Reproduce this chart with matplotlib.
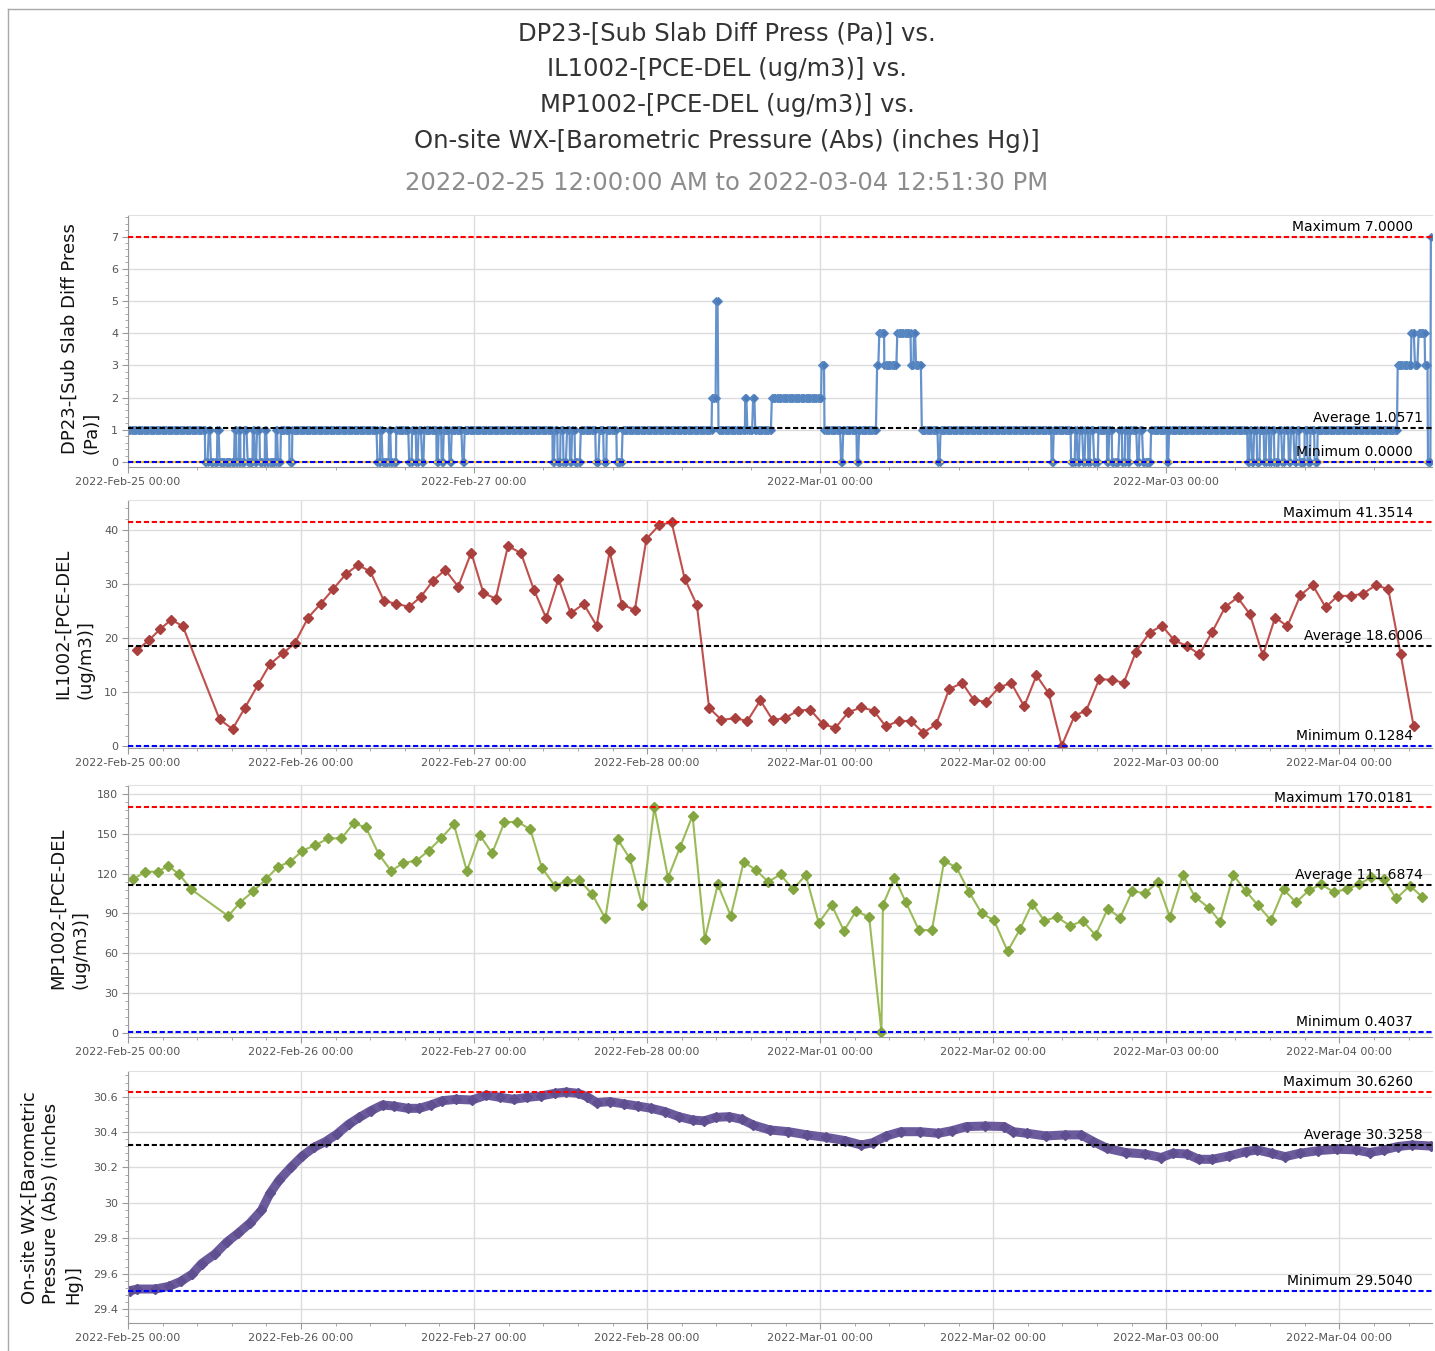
import numpy as np
import pandas as pd
import matplotlib
matplotlib.use("Agg")
import matplotlib.pyplot as plt
import matplotlib.dates as mdates
from matplotlib.lines import Line2D
from matplotlib.ticker import AutoMinorLocator, FuncFormatter

START = pd.Timestamp("2022-02-25 00:00:00")
END = pd.Timestamp("2022-03-04 12:51:30")
END_H = (END - START) / pd.Timedelta(hours=1)

# DP23 sub slab diff press (Pa): runs of a constant reading,
# hour the run starts -> reading held until the next run starts
dp_run_start = [
    0.0, 10.7, 11.2, 11.5, 12.4, 12.7, 14.8, 15.0, 15.4, 15.6, 16.1, 16.6, 17.3, 17.6,
    17.9, 18.3, 19.0, 19.3, 20.5, 20.8, 21.2, 22.4, 22.8,
    34.6, 35.0, 35.3, 36.2, 36.5, 37.2, 39.0, 39.4, 40.0, 40.3, 40.8, 41.1, 42.8, 43.1,
    43.5, 43.8, 44.6, 44.9, 46.4, 46.7,
    58.9, 59.2, 59.6, 60.0, 60.4, 60.9, 61.3, 61.6, 62.0, 62.8, 64.9, 65.4, 66.0, 66.4,
    67.8, 68.6,
    81.0, 81.6, 81.9, 85.6, 85.9, 86.7, 87.0, 89.3, 96.2, 96.6, 98.9, 99.2, 101.1, 101.4,
    103.9, 104.2, 104.9, 106.7, 108.6, 109.0, 109.3, 110.1, 112.4, 112.7,
    128.1, 128.4, 130.8, 131.4, 131.7, 132.0, 132.5, 132.8, 133.2, 133.5, 134.0, 134.6,
    135.8, 136.1, 136.5, 137.5, 137.9, 138.3, 138.7, 139.0, 140.0, 140.3, 140.8, 141.9,
    144.1, 144.4,
    155.3, 155.6, 155.9, 156.2, 156.6, 157.0, 157.6, 157.9, 158.3, 158.6, 159.0, 159.6,
    160.1, 160.4, 161.0, 161.3, 161.8, 162.1, 162.5, 163.2, 163.6, 164.0, 164.6, 165.0,
    176.1, 178.0, 178.5, 179.0, 179.9, 180.3, 180.7,
]
dp_run_value = [
    1, 0, 1, 0, 1, 0, 1, 0, 1, 0, 1, 0, 1, 0,
    1, 0, 1, 0, 1, 0, 1, 0, 1,
    0, 1, 0, 1, 0, 1, 0, 1, 0, 1, 0, 1, 0, 1,
    0, 1, 0, 1, 0, 1,
    0, 1, 0, 1, 0, 1, 0, 1, 0, 1, 0, 1, 0, 1,
    0, 1,
    2, 5, 1, 2, 1, 2, 1, 2, 3, 1, 0, 1, 0, 1,
    3, 4, 3, 4, 3, 4, 3, 1, 0, 1,
    0, 1, 0, 1, 0, 1, 0, 1, 0, 1, 0, 1,
    0, 1, 0, 1, 0, 1, 0, 1, 0, 1, 0, 1,
    0, 1,
    0, 1, 0, 1, 0, 1, 0, 1, 0, 1, 0, 1,
    0, 1, 0, 1, 0, 1, 0, 1, 0, 1, 0, 1,
    3, 4, 3, 4, 3, 0, 7,
]
dp_step_h = 1 / 6  # 10 minute logging interval
dp_avg = 1.0571

# IL1002 PCE-DEL (ug/m3)
il_hours = [
    1.27, 2.9, 4.5, 6.0, 7.6, 12.7, 14.5, 16.2, 18.0, 19.7, 21.5, 23.1, 25.0, 26.7,
    28.5, 30.2, 31.9, 33.6, 35.5, 37.2, 39.0, 40.6, 42.3, 44.0, 45.8, 47.6, 49.3, 51.0,
    52.7, 54.5, 56.3, 58.0, 59.7, 61.4, 63.2, 65.0, 66.8, 68.5, 70.3, 71.9, 73.7, 75.4,
    77.2, 78.9, 80.6, 82.3, 84.2, 85.9, 87.7, 89.4, 91.1, 92.9, 94.6, 96.4, 98.1, 99.9,
    101.7, 103.4, 105.1, 106.9, 108.6, 110.3, 112.1, 113.9, 115.7, 117.3, 119.0, 120.8,
    122.5, 124.3, 126.0, 127.7, 129.5, 131.3, 132.9, 134.7, 136.5, 138.1, 139.8, 141.7,
    143.4, 145.1, 146.9, 148.6, 150.4, 152.2, 153.9, 155.6, 157.4, 159.1, 160.8, 162.6,
    164.3, 166.1, 167.8, 169.6, 171.3, 173.1, 174.8, 176.5, 178.3,
]
il_values = [
    17.8, 19.6, 21.7, 23.4, 22.2, 5.0, 3.2, 7.1, 11.3, 15.2, 17.2, 19.0, 23.8, 26.3,
    29.1, 31.8, 33.5, 32.3, 26.9, 26.3, 25.8, 27.6, 30.6, 32.6, 29.5, 35.8, 28.3, 27.3,
    37.0, 35.7, 28.9, 23.7, 30.9, 24.6, 26.3, 22.3, 36.0, 26.2, 25.2, 38.3, 40.9, 41.3514,
    31.0, 26.1, 7.1, 4.9, 5.2, 4.7, 8.5, 4.9, 5.2, 6.6, 6.8, 4.1, 3.4, 6.3,
    7.2, 6.6, 3.7, 4.7, 4.7, 2.5, 4.1, 10.6, 11.7, 8.6, 8.2, 10.9,
    11.7, 7.4, 13.1, 9.8, 0.1284, 5.7, 6.6, 12.4, 12.3, 11.7, 17.5, 21.0,
    22.3, 19.6, 18.5, 17.0, 21.2, 25.8, 27.5, 24.4, 16.8, 23.8, 22.2, 27.9,
    29.8, 25.7, 27.8, 27.8, 28.2, 29.8, 29.0, 17.1, 3.8,
]
il_avg = 18.6006

# MP1002 PCE-DEL (ug/m3)
mp_hours = [
    0.76, 2.4, 4.1, 5.6, 7.1, 8.8, 13.9, 15.5, 17.4, 19.1, 20.8, 22.5, 24.2, 26.0,
    27.8, 29.6, 31.3, 33.0, 34.8, 36.5, 38.2, 40.0, 41.7, 43.4, 45.2, 47.0, 48.8, 50.5,
    52.2, 54.0, 55.8, 57.4, 59.2, 60.9, 62.6, 64.4, 66.2, 67.9, 69.6, 71.3, 73.0, 74.9,
    76.6, 78.3, 80.0, 81.8, 83.6, 85.4, 87.1, 88.8, 90.5, 92.2, 94.0, 95.8, 97.6, 99.3,
    101.0, 102.8, 104.5, 104.7, 106.3, 107.9, 109.7, 111.5, 113.2, 114.9, 116.7, 118.4,
    120.1, 122.0, 123.7, 125.4, 127.1, 128.8, 130.7, 132.4, 134.2, 135.9, 137.6, 139.3,
    141.0, 142.8, 144.5, 146.3, 148.0, 149.9, 151.5, 153.3, 155.0, 156.7, 158.5, 160.3,
    162.0, 163.8, 165.5, 167.2, 169.0, 170.7, 172.4, 174.2, 175.9, 177.8, 179.5,
]
mp_values = [
    116.0, 121.5, 121.5, 125.8, 119.5, 108.1, 88.0, 98.1, 106.9, 115.7, 125.3, 129.1, 137.4, 141.7,
    146.7, 146.7, 158.1, 155.0, 134.6, 122.0, 128.3, 129.8, 137.4, 146.7, 157.3, 122.0, 149.2, 135.4,
    158.8, 159.3, 153.5, 124.5, 110.9, 114.7, 115.2, 104.4, 86.2, 146.0, 131.6, 96.3, 170.0181, 117.0,
    140.4, 163.9, 70.6, 111.9, 88.2, 129.0, 122.7, 113.9, 119.5, 108.1, 119.0, 82.9, 96.3, 76.9,
    92.0, 87.0, 0.4037, 96.3, 117.0, 98.3, 77.4, 77.4, 129.6, 124.8, 105.9, 90.0,
    84.9, 61.5, 77.9, 97.5, 84.4, 87.4, 80.6, 84.4, 73.6, 93.7, 86.7, 107.1,
    105.1, 113.4, 87.4, 119.0, 102.5, 94.2, 83.6, 119.0, 107.1, 96.3, 84.9, 108.1,
    98.3, 107.6, 111.9, 106.3, 108.1, 111.9, 117.2, 115.7, 101.3, 110.9, 102.5,
]
mp_avg = 111.6874

# On-site WX barometric pressure (inches Hg)
bp_hours = [
    0.3, 1.3, 3.8, 5.7, 7.3, 8.9, 10.2, 12.1, 13.7, 15.3, 16.9, 18.5, 19.7, 21.0,
    22.6, 24.2, 25.8, 27.4, 29.0, 30.6, 32.1, 33.7, 35.3, 36.9, 38.8, 40.4, 42.0, 43.6,
    45.5, 47.7, 49.7, 51.6, 53.5, 55.4, 57.3, 59.2, 60.8, 62.4, 63.7, 65.0, 66.8, 68.8,
    70.7, 72.6, 74.5, 76.4, 78.3, 79.9, 81.5, 83.4, 85.1, 86.7, 89.0, 91.6, 94.2, 96.8,
    99.4, 101.7, 103.3, 105.2, 107.2, 109.8, 112.4, 114.3, 116.3, 118.9, 121.5, 122.8,
    124.7, 127.3, 130.0, 132.2, 133.9, 135.8, 138.4, 141.0, 143.3, 144.9, 146.9, 148.5,
    150.4, 152.7, 155.0, 156.6, 158.6, 160.5, 162.5, 165.1, 167.7, 170.3, 172.2, 174.2,
    176.1, 178.1, 180.7,
]
bp_values = [
    29.504, 29.513, 29.513, 29.528, 29.556, 29.597, 29.656, 29.712, 29.778, 29.829, 29.885,
    29.957, 30.054, 30.130, 30.201, 30.265, 30.314, 30.346, 30.389, 30.444, 30.483, 30.521,
    30.553, 30.547, 30.534, 30.534, 30.553, 30.577, 30.585, 30.581, 30.609, 30.596, 30.585,
    30.596, 30.604, 30.619, 30.626, 30.619, 30.600, 30.566, 30.572, 30.559, 30.547, 30.534,
    30.515, 30.487, 30.468, 30.463, 30.483, 30.487, 30.472, 30.440, 30.412, 30.402, 30.384,
    30.370, 30.352, 30.327, 30.340, 30.378, 30.402, 30.402, 30.393, 30.408, 30.431, 30.434,
    30.431, 30.402, 30.393, 30.378, 30.384, 30.384, 30.346, 30.308, 30.284, 30.276, 30.256,
    30.280, 30.276, 30.246, 30.246, 30.265, 30.289, 30.299, 30.280, 30.261, 30.280, 30.295,
    30.303, 30.299, 30.284, 30.299, 30.318, 30.327, 30.321,
]
bp_avg = 30.3258
bp_ticks = [29.4, 29.6, 29.8, 30.0, 30.2, 30.4, 30.6]

title_lines = [
    "DP23-[Sub Slab Diff Press (Pa)] vs.",
    "IL1002-[PCE-DEL (ug/m3)] vs.",
    "MP1002-[PCE-DEL (ug/m3)] vs.",
    "On-site WX-[Barometric Pressure (Abs) (inches Hg)]",
]
subtitle = "2022-02-25 12:00:00 AM to 2022-03-04 12:51:30 PM"

# expand the DP23 runs into the logged readings
dp_bounds = dp_run_start + [END_H]
dp_hours, dp_values = [], []
for s, e, v in zip(dp_bounds[:-1], dp_bounds[1:], dp_run_value):
    t = np.arange(s, e, dp_step_h)
    dp_hours.extend(t)
    dp_values.extend([v] * len(t))


def to_time(hours):
    return START + pd.to_timedelta(np.asarray(hours, dtype=float), unit="h")


W, H = 1435, 1351
fig = plt.figure(figsize=(W / 100, H / 100), dpi=100)

# outer frame
fig.add_artist(Line2D([8 / W, 1], [1 - 9 / H] * 2, color="#a8a8a8", lw=1))
fig.add_artist(Line2D([8 / W] * 2, [0, 1 - 9 / H], color="#a8a8a8", lw=1))

for i, line in enumerate(title_lines):
    fig.text(727 / W, 1 - (33 + 36 * i) / H, line, ha="center", va="center",
             fontsize=17.5, color="#333333")
fig.text(727 / W, 1 - 183 / H, subtitle, ha="center", va="center",
         fontsize=17.5, color="#8c8c8c")

left, width = 128 / W, 1304 / W


def make_axes(top_px, bottom_px):
    return fig.add_axes([left, 1 - bottom_px / H, width, (bottom_px - top_px) / H])


def style_axes(ax, day_step):
    ax.set_xlim(START, END)
    ax.set_xticks(pd.date_range(START, END, freq=f"{day_step}D"))
    ax.xaxis.set_major_formatter(mdates.DateFormatter("%Y-%b-%d %H:%M"))
    ax.xaxis.set_minor_locator(AutoMinorLocator(5))
    ax.yaxis.set_minor_locator(AutoMinorLocator(5))
    ax.grid(True, which="major", color="#dcdcdc", lw=1)
    ax.set_axisbelow(True)
    ax.tick_params(which="both", direction="out", color="#9a9a9a",
                   labelcolor="#555555", labelsize=8)
    ax.tick_params(which="major", length=4, pad=3)
    ax.tick_params(which="minor", length=2.5)
    ax.spines["left"].set_color("#9a9a9a")
    ax.spines["bottom"].set_color("#9a9a9a")
    ax.spines["top"].set_color("#e2e2e2")
    ax.spines["right"].set_visible(False)


def stat_lines(ax, vmax, vavg, vmin):
    dash = (0, (2.5, 1.3))
    for val, col, name, xr in [(vmax, "#ff0000", "Maximum", 0.9854),
                               (vavg, "#000000", "Average", 0.993),
                               (vmin, "#0000ff", "Minimum", 0.9854)]:
        ax.axhline(val, color=col, lw=1.5, ls=dash, zorder=4)
        ax.annotate(f"{name} {val:.4f}", xy=(xr, val), xycoords=("axes fraction", "data"),
                    xytext=(0, 2), textcoords="offset points", ha="right", va="bottom",
                    fontsize=10, color="black", zorder=5)


def side_label(text, x_px, y_px):
    fig.text(x_px / W, 1 - y_px / H, text, rotation=90, ha="center", va="center",
             multialignment="left", fontsize=13, color="#111111", linespacing=1.3)


# DP23
ax1 = make_axes(215, 467)
ax1.plot(to_time(dp_hours), dp_values, color="#6592cb", lw=1.6, marker="D", ms=4.5,
         mfc="#4a7bb8", mec="#5a88c2", mew=0.8, zorder=2)
ax1.axhline(0, color="#ffd200", lw=1.5, zorder=3.9)
stat_lines(ax1, max(dp_values), dp_avg, min(dp_values))
ax1.set_ylim(-0.155, 7.67)
ax1.set_yticks(range(0, 8))
style_axes(ax1, 2)
side_label("DP23-[Sub Slab Diff Press\n(Pa)]", 80.5, 338.5)

# IL1002
ax2 = make_axes(500, 748)
ax2.plot(to_time(il_hours), il_values, color="#c0504d", lw=1.5, marker="D", ms=5,
         mfc="#a9403d", mec="#a9403d", zorder=2)
stat_lines(ax2, max(il_values), il_avg, min(il_values))
ax2.set_ylim(-0.3, 45.5)
ax2.set_yticks(range(0, 41, 10))
style_axes(ax2, 1)
side_label("IL1002-[PCE-DEL\n(ug/m3)]", 74.5, 623.5)

# MP1002
ax3 = make_axes(785, 1037)
ax3.plot(to_time(mp_hours), mp_values, color="#9bbb59", lw=1.5, marker="D", ms=5,
         mfc="#84a640", mec="#84a640", zorder=2)
stat_lines(ax3, max(mp_values), mp_avg, min(mp_values))
ax3.set_ylim(-3.3, 187)
ax3.set_yticks(range(0, 181, 30))
style_axes(ax3, 1)
side_label("MP1002-[PCE-DEL\n(ug/m3)]", 69, 908)

# barometric pressure
ax4 = make_axes(1071, 1323)
ax4.plot(to_time(bp_hours), bp_values, color="#6b5a9c", lw=6.5, marker="D", ms=5,
         mfc="#5f4f90", mec="#5f4f90", solid_joinstyle="round", zorder=2)
stat_lines(ax4, max(bp_values), bp_avg, min(bp_values))
ax4.set_ylim(29.321, 30.745)
ax4.set_yticks(bp_ticks)
ax4.yaxis.set_major_formatter(FuncFormatter(lambda v, p: f"{v:g}"))
style_axes(ax4, 1)
side_label("On-site WX-[Barometric\nPressure (Abs) (inches\nHg)]", 51.5, 1197.5)

fig.savefig("out.png", dpi=100)
